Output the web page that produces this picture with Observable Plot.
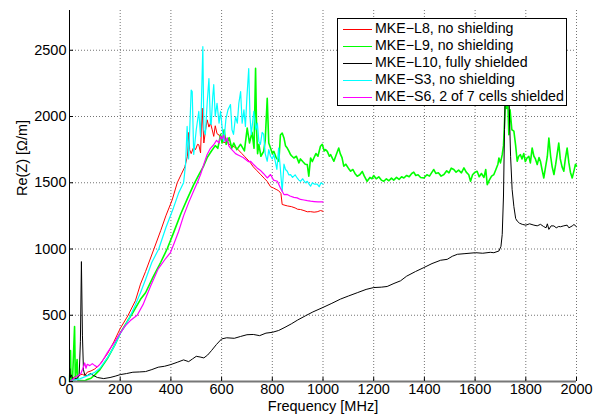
<!DOCTYPE html>
<html>
<head>
<meta charset="utf-8">
<script src="https://cdn.jsdelivr.net/npm/d3@7"></script>
<script src="https://cdn.jsdelivr.net/npm/@observablehq/plot@0.6"></script>
<style>
  body { margin: 0; background: white; }
  #wrap { position: relative; width: 595px; height: 415px; font-family: "Liberation Sans", Arial, sans-serif; }
  #legend { position: absolute; left: 337px; top: 18px; width: 228px; height: 86px; background: white; border: 1px solid black; }
  .row { position: absolute; left: 0; height: 17px; line-height: 17px; font-size: 14.2px; white-space: nowrap; }
  .sw { position: absolute; left: 5px; top: 9px; width: 29px; height: 0; border-top: 1px solid; }
  .lb { position: absolute; left: 37px; top: 0; }
</style>
</head>
<body>
<div id="wrap"><div id="chart"></div><div id="legend"></div></div>
<script>
const xTicks = [0, 200, 400, 600, 800, 1000, 1200, 1400, 1600, 1800, 2000];
const yTicks = [0, 500, 1000, 1500, 2000, 2500];
const seriesNames = ["MKE−L8, no shielding", "MKE−L9, no shielding", "MKE−L10, fully shielded", "MKE−S3, no shielding", "MKE−S6, 2 of 7 cells shielded"];
const seriesColors = ["#ff0000", "#00ff00", "#000000", "#00ffff", "#ff00ff"];
const seriesWidths = [1, 1.6, 1, 1.2, 1.2];

// [frequency MHz, Re(Z) Ohm/m]
const l8 = [[0,0],[10,20],[20,35],[35,45],[50,55],[60,45],[70,70],[85,80],[100,95],[120,130],[150,210],[175,300],[200,400],[230,495],[260,610],[280,735],[300,830],[333,1000],[360,1140],[380,1250],[405,1370],[425,1500],[440,1560],[455,1620],[465,1700],[471,1880],[474,1750],[480,1720],[490,1770],[497,1750],[505,1790],[510,1787],[517,1725],[523,2063],[530,1800],[537,1900],[543,1975],[550,1920],[556,1950],[563,1900],[569,1850],[575,1930],[582,1870],[590,1860],[600,1830],[610,1800],[620,1820],[630,1790],[640,1780],[650,1770],[660,1760],[670,1740],[680,1720],[690,1700],[700,1680],[714,1650],[725,1620],[740,1590],[755,1560],[770,1530],[780,1510],[793,1470],[805,1460],[815,1450],[825,1440],[834,1420],[839,1336],[850,1330],[860,1325],[875,1320],[890,1310],[900,1300],[911,1298],[925,1290],[938,1281],[950,1282],[965,1278],[977,1281],[990,1290],[1000,1285]];

const l9 = [[0,0],[4,233],[6,10],[12,20],[20,414],[23,15],[30,165],[33,10],[45,8],[60,5],[70,15],[85,25],[100,50],[120,90],[150,175],[180,280],[200,365],[230,460],[250,520],[280,620],[300,670],[330,790],[360,900],[385,1000],[410,1120],[440,1270],[465,1380],[490,1486],[510,1560],[530,1630],[543,1690],[560,1740],[575,1780],[585,1760],[596,1865],[602,1800],[610,1900],[618,1790],[630,1840],[640,1760],[648,1800],[660,1750],[675,1790],[690,1740],[701,1912],[710,1800],[720,1880],[728,1760],[734,2363],[738,1900],[742,1720],[747,1790],[755,1700],[766,1737],[772,1820],[780,2138],[786,1800],[793,1762],[800,1720],[806,1737],[815,1690],[826,1662],[832,1860],[839,1875],[846,1838],[852,1780],[859,1762],[865,1740],[872,1712],[878,1700],[885,1687],[895,1700],[905,1650],[911,1680],[920,1660],[930,1640],[938,1637],[944,1549],[951,1687],[958,1660],[964,1687],[972,1720],[980,1700],[990,1775],[997,1790],[1005,1740],[1010,1750],[1017,1737],[1025,1700],[1030,1712],[1043,1662],[1050,1700],[1062,1762],[1068,1720],[1075,1690],[1082,1625],[1090,1640],[1100,1610],[1109,1587],[1118,1600],[1126,1570],[1135,1549],[1145,1560],[1155,1585],[1163,1550],[1174,1511],[1185,1540],[1193,1530],[1200,1555],[1210,1530],[1220,1545],[1230,1520],[1240,1511],[1250,1530],[1260,1515],[1270,1535],[1279,1520],[1290,1540],[1300,1525],[1310,1545],[1319,1536],[1330,1555],[1340,1545],[1350,1570],[1358,1580],[1366,1555],[1375,1560],[1385,1540],[1398,1536],[1410,1560],[1420,1550],[1430,1580],[1437,1600],[1445,1570],[1455,1575],[1466,1550],[1477,1562],[1488,1590],[1497,1575],[1506,1610],[1516,1600],[1525,1580],[1535,1595],[1546,1575],[1556,1612],[1565,1580],[1575,1560],[1582,1511],[1590,1560],[1600,1580],[1608,1587],[1616,1545],[1625,1570],[1635,1540],[1642,1600],[1648,1486],[1656,1520],[1665,1550],[1674,1562],[1682,1600],[1690,1640],[1694,1687],[1700,1650],[1707,1712],[1712,1780],[1716,1950],[1720,2150],[1724,2060],[1728,2180],[1733,1862],[1738,2050],[1745,1900],[1753,1890],[1760,1780],[1766,1662],[1772,1700],[1779,1712],[1785,1680],[1792,1720],[1798,1660],[1805,1687],[1812,1700],[1818,1650],[1825,1762],[1832,1700],[1838,1680],[1845,1637],[1852,1690],[1858,1660],[1864,1600],[1871,1536],[1878,1620],[1885,1700],[1891,1837],[1898,1700],[1904,1620],[1911,1562],[1918,1640],[1924,1720],[1930,1800],[1936,1680],[1943,1620],[1950,1587],[1956,1680],[1963,1762],[1970,1650],[1976,1580],[1983,1536],[1990,1590],[1996,1640],[2000,1625]];

const l10 = [[0,0],[1,98],[3,30],[8,50],[12,20],[20,20],[30,25],[38,40],[43,300],[47,905],[51,350],[55,90],[60,50],[70,45],[83,60],[95,45],[110,30],[135,22],[160,30],[180,40],[200,52],[225,60],[250,70],[275,72],[300,75],[325,90],[350,108],[375,115],[400,128],[425,145],[450,163],[470,150],[485,170],[500,190],[515,185],[530,178],[545,200],[560,233],[580,280],[600,321],[620,330],[650,326],[675,340],[700,353],[725,355],[750,346],[775,365],[800,371],[825,385],[850,409],[875,435],[900,464],[930,495],[960,525],[1000,559],[1035,590],[1069,622],[1100,645],[1135,670],[1170,695],[1200,709],[1230,712],[1253,717],[1280,740],[1306,760],[1330,795],[1365,830],[1398,860],[1430,890],[1464,915],[1490,922],[1510,945],[1530,960],[1560,965],[1602,972],[1630,968],[1660,975],[1674,972],[1694,985],[1702,1020],[1707,1110],[1712,1400],[1716,1900],[1720,2300],[1725,2700],[1730,2500],[1735,2050],[1740,1700],[1746,1450],[1753,1320],[1760,1230],[1766,1211],[1775,1195],[1786,1186],[1800,1180],[1815,1190],[1832,1180],[1845,1175],[1858,1186],[1870,1170],[1880,1160],[1885,1190],[1891,1148],[1900,1175],[1911,1174],[1920,1160],[1930,1170],[1937,1168],[1950,1175],[1963,1180],[1970,1160],[1983,1174],[1990,1185],[2000,1168]];

const s3 = [[0,0],[20,10],[40,20],[60,35],[80,50],[100,70],[120,100],[150,180],[175,260],[200,360],[225,440],[241,500],[260,580],[280,670],[300,770],[325,900],[352,1000],[380,1160],[410,1310],[430,1420],[450,1500],[458,1640],[464,1925],[470,1680],[480,2200],[484,2188],[490,1714],[500,1900],[510,2038],[517,1850],[526,2527],[530,1900],[536,1865],[543,2100],[550,2286],[556,1950],[559,1940],[565,2150],[569,2240],[575,2000],[582,2100],[590,1950],[596,2038],[603,1900],[609,1812],[617,1980],[625,2050],[635,2090],[641,1900],[647,1865],[655,2000],[662,1950],[668,2100],[675,2188],[681,1950],[688,2050],[694,1925],[700,2150],[707,2362],[712,2000],[717,1865],[722,1950],[727,2038],[735,1900],[741,1950],[747,1812],[753,1790],[760,1880],[766,1865],[772,1720],[780,1662],[786,1750],[793,1700],[800,1680],[806,1714],[812,1660],[818,1600],[825,1762],[832,1600],[839,1436],[846,1640],[852,1600],[859,1587],[865,1560],[872,1562],[880,1540],[890,1560],[898,1536],[905,1520],[911,1511],[920,1530],[930,1500],[938,1511],[945,1490],[951,1474],[958,1500],[965,1490],[977,1490],[985,1470],[992,1500],[1000,1490]];

const s6 = [[0,0],[15,20],[30,40],[45,60],[55,110],[60,140],[65,100],[70,130],[80,120],[90,135],[100,120],[110,110],[125,140],[150,220],[175,290],[200,365],[220,420],[240,460],[267,500],[290,580],[320,720],[350,850],[380,930],[398,972],[412,1040],[430,1130],[450,1250],[470,1350],[490,1440],[504,1500],[517,1562],[530,1640],[543,1713],[556,1760],[569,1787],[580,1820],[590,1800],[596,1850],[602,1830],[608,1860],[615,1810],[622,1840],[628,1780],[635,1762],[645,1740],[655,1720],[665,1710],[675,1700],[685,1690],[695,1675],[705,1660],[714,1662],[725,1640],[740,1612],[755,1590],[765,1570],[780,1536],[793,1562],[805,1520],[820,1511],[832,1461],[846,1411],[859,1412],[870,1400],[885,1390],[898,1386],[911,1374],[925,1370],[938,1365],[951,1361],[965,1358],[980,1355],[997,1356],[1000,1355]];

const allSeries = [l8, l9, l10, s3, s6];

const lineMarks = allSeries.map((s, i) => Plot.line(s, {x: d => d[0], y: d => d[1], stroke: seriesColors[i], strokeWidth: seriesWidths[i]}));

const chart = Plot.plot({
  width: 595,
  height: 415,
  marginLeft: 69,
  marginRight: 19,
  marginTop: 10,
  marginBottom: 34,
  x: {domain: [0, 2000]},
  y: {domain: [0, 2800]},
  style: {fontFamily: "'Liberation Sans', Arial, sans-serif", fontSize: "14.5px", background: "white", color: "black", overflow: "visible"},
  marks: [
    Plot.gridX(xTicks, {stroke: "#000", strokeOpacity: 0.55, strokeDasharray: "1,2"}),
    Plot.gridY(yTicks, {stroke: "#000", strokeOpacity: 0.55, strokeDasharray: "1,2"}),
    ...lineMarks,
    Plot.ruleY([0], {stroke: "#777", strokeWidth: 2}),
    Plot.ruleX([0], {stroke: "#000", strokeWidth: 1}),
    Plot.axisX(xTicks, {tickSize: -4, tickPadding: 6, label: null, fontSize: 14.5, tickFormat: d => String(d)}),
    Plot.axisY(yTicks, {tickSize: -4, tickPadding: 7, label: null, fontSize: 14.5, tickFormat: d => String(d)}),
    Plot.text(["Frequency [MHz]"], {text: d => d, frameAnchor: "bottom", dy: 29, fontSize: 14.5}),
    Plot.text(["Re(Z) [Ω/m]"], {text: d => d, frameAnchor: "left", dx: -47, rotate: -90, fontSize: 14.5})
  ]
});
document.getElementById("chart").appendChild(chart);

const legend = document.getElementById("legend");
seriesNames.forEach((name, i) => {
  const row = document.createElement("div");
  row.className = "row";
  row.style.top = (1 + i * 17) + "px";
  const sw = document.createElement("div");
  sw.className = "sw";
  sw.style.borderTopColor = seriesColors[i];
  const lb = document.createElement("span");
  lb.className = "lb";
  lb.textContent = name;
  row.appendChild(sw);
  row.appendChild(lb);
  legend.appendChild(row);
});
</script>
</body>
</html>
